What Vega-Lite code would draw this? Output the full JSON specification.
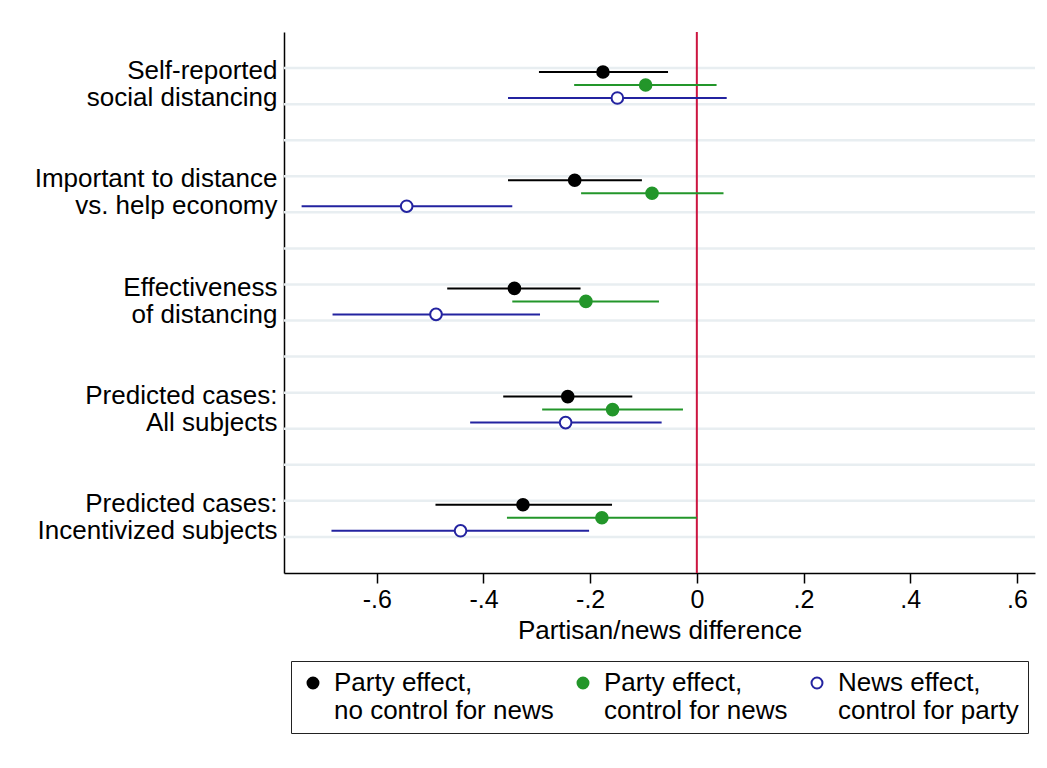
{
  "$schema": "https://vega.github.io/schema/vega-lite/v6.json",
  "autosize": "none",
  "width": 751,
  "height": 541,
  "padding": {"left": 284, "top": 32, "right": 12, "bottom": 195},
  "background": "white",
  "config": {
    "font": "Liberation Sans",
    "view": {"stroke": null},
    "axis": {"labelColor": "black", "titleColor": "black", "domainColor": "black", "tickColor": "black", "grid": false, "zindex": 1},
    "legend": {"labelColor": "black"}
  },
  "datasets": {
    "est": [
      {"outcome": "Self-reported|social distancing", "series": "Party effect,|no control for news", "est": -0.176, "lo": -0.296, "hi": -0.054},
      {"outcome": "Self-reported|social distancing", "series": "Party effect,|control for news", "est": -0.096, "lo": -0.230, "hi": 0.037},
      {"outcome": "Self-reported|social distancing", "series": "News effect,|control for party", "est": -0.149, "lo": -0.354, "hi": 0.056},
      {"outcome": "Important to distance|vs. help economy", "series": "Party effect,|no control for news", "est": -0.229, "lo": -0.354, "hi": -0.103},
      {"outcome": "Important to distance|vs. help economy", "series": "Party effect,|control for news", "est": -0.084, "lo": -0.217, "hi": 0.050},
      {"outcome": "Important to distance|vs. help economy", "series": "News effect,|control for party", "est": -0.544, "lo": -0.741, "hi": -0.346},
      {"outcome": "Effectiveness|of distancing", "series": "Party effect,|no control for news", "est": -0.342, "lo": -0.468, "hi": -0.218},
      {"outcome": "Effectiveness|of distancing", "series": "Party effect,|control for news", "est": -0.208, "lo": -0.346, "hi": -0.071},
      {"outcome": "Effectiveness|of distancing", "series": "News effect,|control for party", "est": -0.489, "lo": -0.683, "hi": -0.294},
      {"outcome": "Predicted cases:|All subjects", "series": "Party effect,|no control for news", "est": -0.242, "lo": -0.363, "hi": -0.121},
      {"outcome": "Predicted cases:|All subjects", "series": "Party effect,|control for news", "est": -0.158, "lo": -0.290, "hi": -0.026},
      {"outcome": "Predicted cases:|All subjects", "series": "News effect,|control for party", "est": -0.246, "lo": -0.425, "hi": -0.066},
      {"outcome": "Predicted cases:|Incentivized subjects", "series": "Party effect,|no control for news", "est": -0.326, "lo": -0.490, "hi": -0.159},
      {"outcome": "Predicted cases:|Incentivized subjects", "series": "Party effect,|control for news", "est": -0.178, "lo": -0.356, "hi": 0.0},
      {"outcome": "Predicted cases:|Incentivized subjects", "series": "News effect,|control for party", "est": -0.443, "lo": -0.685, "hi": -0.202}
    ]
  },
  "layer": [
    {
      "data": {"values": [{"g": 1}, {"g": 2}, {"g": 3}, {"g": 4}, {"g": 5}, {"g": 6}, {"g": 7}, {"g": 8}, {"g": 9}, {"g": 10}, {"g": 11}, {"g": 12}, {"g": 13}, {"g": 14}]},
      "mark": {"type": "rule", "color": "#e8eef1", "strokeWidth": 2.5},
      "encoding": {
        "y": {"field": "g", "type": "quantitative", "scale": {"domain": [0, 15], "nice": false, "zero": false}, "axis": null}
      }
    },
    {
      "layer": [
        {
          "data": {"values": [{"v": 0}]},
          "mark": {"type": "rule", "color": "#cc1540", "strokeWidth": 2},
          "encoding": {
            "x": {"field": "v", "type": "quantitative"}
          }
        },
        {
          "data": {"name": "est"},
          "mark": {"type": "rule", "strokeWidth": 2},
          "encoding": {
            "x": {"field": "lo", "type": "quantitative"},
            "x2": {"field": "hi"},
            "y": {"field": "outcome", "type": "nominal", "sort": null, "scale": {"type": "band", "paddingInner": 0, "paddingOuter": 0}},
            "yOffset": {"field": "series", "type": "nominal", "sort": null, "scale": {"type": "point", "padding": 0, "range": [40, 66]}},
            "color": {"field": "series", "type": "nominal"}
          }
        },
        {
          "data": {"name": "est"},
          "mark": {"type": "point", "filled": false, "opacity": 1, "size": 135, "strokeWidth": 2},
          "encoding": {
            "x": {
              "field": "est",
              "type": "quantitative",
              "scale": {"domain": [-0.774, 0.634], "nice": false, "zero": false},
              "axis": {
                "title": "Partisan/news difference",
                "values": [-0.6, -0.4, -0.2, 0, 0.2, 0.4, 0.6],
                "labelExpr": "datum.value == 0 ? '0' : (datum.value < 0 ? '-' : '') + replace(format(abs(datum.value), '.1f'), '0.', '.')",
                "labelFontSize": 25,
                "labelPadding": 4,
                "tickSize": 10,
                "tickWidth": 1.5,
                "domainWidth": 1.5,
                "titleFontSize": 26,
                "titleFontWeight": "normal",
                "titlePadding": 5
              }
            },
            "y": {
              "field": "outcome",
              "type": "nominal",
              "sort": null,
              "scale": {"type": "band", "paddingInner": 0, "paddingOuter": 0},
              "axis": {
                "orient": "left",
                "title": null,
                "ticks": false,
                "labelExpr": "split(datum.label, '|')",
                "labelFontSize": 26,
                "labelLineHeight": 27,
                "labelOffset": -15,
                "labelPadding": 7,
                "labelLimit": 400,
                "domainWidth": 1.5
              }
            },
            "yOffset": {"field": "series", "type": "nominal", "sort": null, "scale": {"type": "point", "padding": 0, "range": [40, 66]}},
            "color": {
              "field": "series",
              "type": "nominal",
              "scale": {
                "domain": ["Party effect,|no control for news", "Party effect,|control for news", "News effect,|control for party"],
                "range": ["black", "#23962a", "#2323a0"]
              },
              "legend": {
                "title": null,
                "orient": "none",
                "legendX": 7,
                "legendY": 629,
                "direction": "horizontal",
                "columns": 3,
                "symbolType": "circle",
                "symbolSize": 120,
                "symbolStrokeWidth": 2,
                "labelExpr": "split(datum.label, '|')",
                "labelFontSize": 26,
                "labelLimit": 400,
                "labelOffset": 8,
                "columnPadding": 16,
                "padding": 9,
                "strokeColor": "#222222",
                "fillColor": "white"
              }
            },
            "fill": {
              "field": "series",
              "type": "nominal",
              "scale": {
                "domain": ["Party effect,|no control for news", "Party effect,|control for news", "News effect,|control for party"],
                "range": ["black", "#23962a", "white"]
              },
              "legend": {"title": null}
            }
          }
        }
      ]
    }
  ],
  "resolve": {"scale": {"y": "independent"}, "axis": {"y": "independent"}}
}
